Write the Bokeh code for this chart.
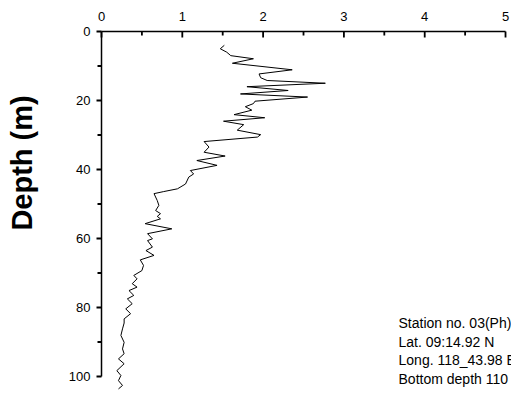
from math import pi

from bokeh.core.properties import value as fixed
from bokeh.embed import file_html
from bokeh.models import Label, Range1d
from bokeh.plotting import figure
from bokeh.resources import INLINE

# Profile values (x on top axis) against depth in metres
depth_m = [4.0, 5.0, 6.0, 7.0, 7.9, 9.2, 11.1, 12.3, 13.4, 14.2, 15.0, 16.0,
           17.1, 18.1, 19.0, 20.2, 20.9, 21.8, 22.8, 24.1, 25.0, 26.0, 27.0,
           28.6, 29.9, 30.6, 31.9, 33.5, 35.0, 36.1, 37.4, 38.8, 40.3, 41.3,
           42.2, 44.2, 45.6, 46.4, 47.0, 49.0, 50.4, 51.9, 52.8, 53.6, 54.3,
           55.7, 57.2, 58.6, 60.1, 60.6, 62.5, 63.5, 64.9, 66.2, 67.8, 69.3,
           70.7, 71.7, 73.1, 74.1, 75.1, 76.5, 77.5, 78.9, 80.4, 81.8, 83.3,
           84.5, 86.2, 88.1, 90.1, 92.0, 93.4, 94.9, 96.3, 98.3, 99.7, 101.2,
           102.6, 103.6]
profile = [1.52, 1.47, 1.55, 1.60, 1.88, 1.62, 2.36, 1.95, 1.97, 2.05, 2.77,
           1.80, 2.31, 1.72, 2.55, 1.90, 1.88, 1.78, 1.86, 1.64, 2.02, 1.51,
           1.76, 1.68, 1.97, 1.93, 1.27, 1.33, 1.27, 1.53, 1.18, 1.43, 1.10,
           1.14, 1.08, 1.04, 0.94, 0.77, 0.65, 0.69, 0.71, 0.67, 0.73, 0.69,
           0.73, 0.54, 0.87, 0.57, 0.63, 0.57, 0.63, 0.55, 0.65, 0.48, 0.52,
           0.50, 0.40, 0.44, 0.38, 0.44, 0.34, 0.40, 0.32, 0.38, 0.30, 0.36,
           0.28, 0.28, 0.26, 0.24, 0.28, 0.26, 0.28, 0.21, 0.28, 0.19, 0.24,
           0.21, 0.26, 0.21]

x_ticks = [0, 1, 2, 3, 4, 5]
x_minor = [0.5, 1.5, 2.5, 3.5, 4.5]
x_tick_labels = ["0", "1", "2", "3", "4", "5"]
y_ticks = [0, 20, 40, 60, 80, 100]
y_minor = [10, 30, 50, 70, 90]
y_tick_labels = ["0", "20", "40", "60", "80", "100"]

station_lines = ["Station no. 03(Ph)", "Lat. 09:14.92 N",
                 "Long. 118_43.98 E", "Bottom depth 110 m"]
station_depths = [84.6, 90.0, 95.3, 100.6]

FONT = "Liberation Sans"
W, H = 511, 396

# the frame fills the canvas; the axes are drawn at x = 0 and depth = 0
x_lo, x_hi = -1.25, 5.074
d_top, d_bot = -8.986, 105.8
p = figure(width=W, height=H, output_backend="svg", toolbar_location=None,
           x_range=Range1d(x_lo, x_hi), y_range=Range1d(d_bot, d_top),
           x_axis_location=None, y_axis_location=None,
           min_border=0)
p.outline_line_color = None
p.xgrid.visible = False
p.ygrid.visible = False
p.background_fill_color = "white"
p.border_fill_color = "white"

# pixel lengths converted to data units
px_x = (x_hi - x_lo) / W
px_d = (d_bot - d_top) / H
half_w = 0.9  # half thickness of a tick mark, px

# profile trace
p.line(profile, depth_m, line_color="black", line_width=1)


def top_ticks(xs, length):
    n = len(xs)
    p.quad(left=[x - half_w * px_x for x in xs],
           right=[x + half_w * px_x for x in xs],
           top=[0] * n, bottom=[length * px_d] * n,
           fill_color="black", line_color=None)


def left_ticks(ds, length):
    n = len(ds)
    p.quad(left=[-length * px_x] * n, right=[0] * n,
           top=[d - half_w * px_d for d in ds],
           bottom=[d + half_w * px_d for d in ds],
           fill_color="black", line_color=None)


# top axis: rule, inward ticks, labels
p.segment(x0=[x_ticks[0]], y0=[0], x1=[x_ticks[-1]], y1=[0],
          line_color="black", line_width=1.5)
top_ticks(x_ticks, 6)
top_ticks(x_minor, 4)
p.text(x=x_ticks, y=[-15 * px_d] * len(x_ticks), text=x_tick_labels,
       text_align="center", text_baseline="middle",
       text_font=fixed(FONT), text_font_size=fixed("13px"),
       text_color="black")

# left axis: rule, outward ticks, labels
p.segment(x0=[0], y0=[y_ticks[0]], x1=[0], y1=[y_ticks[-1]],
          line_color="black", line_width=1.5)
left_ticks(y_ticks, 5)
left_ticks(y_minor, 4)
p.text(x=[-11 * px_x] * len(y_ticks), y=y_ticks, text=y_tick_labels,
       text_align="right", text_baseline="middle",
       text_font=fixed(FONT), text_font_size=fixed("13px"),
       text_color="black")

# vertical axis title
p.text(x=[-80 * px_x], y=[38.1], text=["Depth (m)"], angle=pi / 2,
       text_align="center", text_baseline="middle",
       text_font=fixed(FONT), text_font_style="bold",
       text_font_size=fixed("29px"), text_color="black")

for line_text, d in zip(station_lines, station_depths):
    p.add_layout(Label(x=3.676, y=d, text=line_text, text_align="left",
                       text_baseline="middle", text_font=FONT,
                       text_font_size="14px", text_color="black"))

open("out.html", "w").write(file_html(p, INLINE))
